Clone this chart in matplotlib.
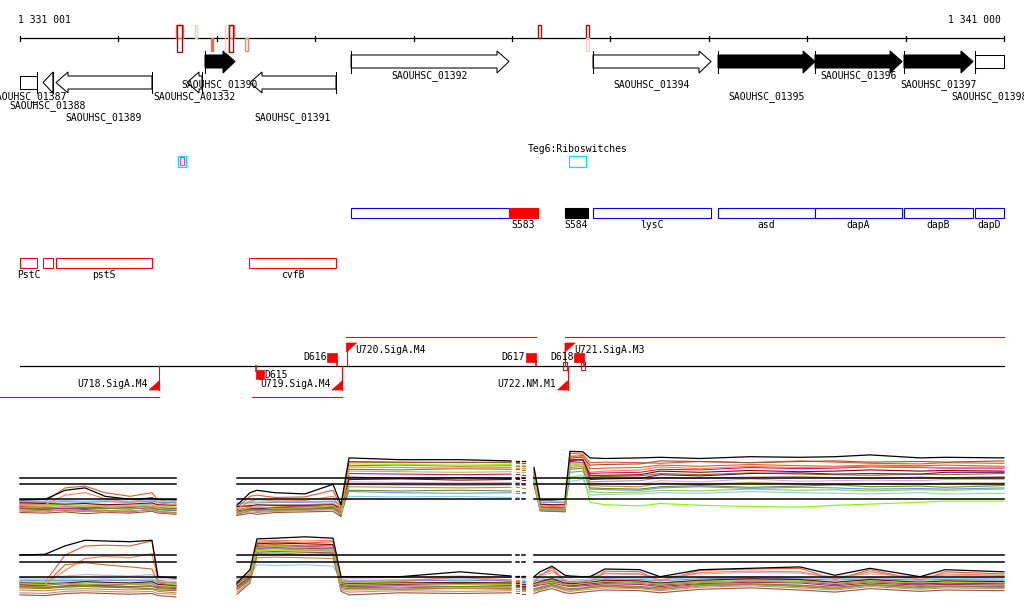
import numpy as np
import matplotlib
matplotlib.use("Agg")
import matplotlib.pyplot as plt
from matplotlib.patches import Rectangle, Polygon

plt.rcParams["font.family"] = ["DejaVu Sans Mono", "DejaVu Sans"]

REGION_START = 1331001
REGION_END = 1341000
BP_PER_PX = (REGION_END - REGION_START) / 984.0
X_LEFT = REGION_START - 20 * BP_PER_PX
X_RIGHT = REGION_END + 20 * BP_PER_PX
FS = 7

# ---------------- data ----------------
# coloured marks on the coordinate axis ('+' above, '-' below, 'b' both)
mark_start = [1332586, 1332600, 1332779, 1332942, 1333087, 1333125, 1333128, 1333291, 1336260, 1336753, 1336753]
mark_end = [1332654, 1332644, 1332803, 1332965, 1333112, 1333173, 1333169, 1333315, 1336293, 1336779, 1336779]
mark_strand = ["+", "b", "+", "-", "b", "+", "b", "-", "+", "+", "-"]
mark_color = ["#ff6347", "#a01010", "#f5d0c8", "#ff6347", "#f5d0c8", "#ff6347", "#a01010", "#fa8072", "#a01010", "#a01010", "#f5d0c8"]
mark_filled = [False, False, False, True, False, False, False, False, False, False, False]

# genes
gene_name = ["SAOUHSC_01387", "SAOUHSC_01388", "SAOUHSC_01389", "SAOUHSC_A01332", "SAOUHSC_01390", "SAOUHSC_01391",
             "SAOUHSC_01392", "SAOUHSC_01394", "SAOUHSC_01395", "SAOUHSC_01396", "SAOUHSC_01397", "SAOUHSC_01398"]
gene_start = [1330620, 1331235, 1331367, 1332698, 1332881, 1333338, 1334365, 1336824, 1338094, 1339080, 1339984, 1340706]
gene_end = [1331174, 1331336, 1332342, 1332850, 1333186, 1334212, 1335970, 1338023, 1339080, 1339964, 1340685, 1341420]
gene_strand = ["-", "-", "-", "-", "+", "-", "+", "+", "+", "+", "+", "+"]
gene_filled = [False, False, False, False, True, False, False, False, True, True, True, False]

# riboswitch track
ribo_start = [1332607, 1336580]
ribo_end = [1332688, 1336753]
ribo_name = ["", "Teg6:Riboswitches"]

# operon / sRNA track
feat_start = [1334365, 1335970, 1336539, 1336824, 1338094, 1339080, 1339984, 1340706]
feat_end = [1335970, 1336265, 1336773, 1338023, 1339080, 1339964, 1340685, 1341420]
feat_name = ["", "S583", "S584", "lysC", "asd", "dapA", "dapB", "dapD"]
feat_face = ["white", "red", "black", "white", "white", "white", "white", "white"]
feat_edge = ["blue", "red", "black", "blue", "blue", "blue", "blue", "blue"]

# other annotation track
oth_start = [1330700, 1331235, 1331367, 1333328]
oth_end = [1331174, 1331336, 1332342, 1334212]
oth_name = ["PstC", "", "pstS", "cvfB"]

# transcription units
tx_up_start = [1334314, 1336539]
tx_up_end = [1336245, 1341000]
tx_down_start = [1330700, 1333354]
tx_down_end = [1332414, 1334273]
prom_name = ["U718.SigA.M4", "U719.SigA.M4", "U720.SigA.M4", "U721.SigA.M3", "U722.NM.M1"]
prom_pos = [1332414, 1334273, 1334319, 1336539, 1336565]
prom_strand = ["-", "-", "+", "+", "-"]
term_name = ["D615", "D616", "D617", "D618"]
term_pos = [1333399, 1334222, 1336240, 1336732]
term_strand = ["-", "+", "+", "+"]
small_start = [1336519, 1336702]
small_end = [1336560, 1336742]

# expression profiles (probe positions, log2 signal)
expr_x = [1331001, 1331255, 1331458, 1331662, 1331865, 1332119, 1332342, 1332403, 1332586,
          1333206, 1333338, 1333409, 1333592, 1333897, 1334182, 1334263, 1334344, 1334863, 1335472, 1335991,
          1336041, 1336072,
          1336102, 1336133,
          1336224, 1336285, 1336407, 1336539, 1336590, 1336722, 1336793, 1336945, 1337301, 1337505,
          1337911, 1338419, 1338927, 1339283, 1339639, 1340147, 1340401, 1341000]
seg_len = [9, 11, 2, 2, 18]
ref_a = [10, 9, 6.5]
ref_b = [10, 9, 6.8]
expr_colors = ["#e8582c", "#d2691e", "#808000", "#7cfc00", "#87cefa", "#6495ed", "#800080",
               "#c71585", "#a0522d", "#dda0dd", "#8b0000", "#cd853f",
               "#ff7f50", "#6b8e23", "#bc8f8f", "#9acd32"]

a_black = [6.4, 6.5, 8.0, 8.4, 7.0, 6.5, 6.7, 6.5, 6.4,
           5.5, 7.6, 8.0, 7.6, 7.4, 9.0, 5.6, 13.4, 13.1, 13.1, 12.9,
           12.9, 12.9, 12.9, 12.9,
           11.8, 6.4, 6.4, 6.5, 14.5, 14.4, 13.4, 13.3, 13.4, 13.5, 13.3, 13.6, 13.5, 13.6, 13.9, 13.4, 13.5, 13.4]
a_orangered = [5.9, 6.1, 8.4, 8.7, 7.6, 7.0, 7.6, 6.4, 5.9,
               5.1, 7.0, 7.2, 6.8, 6.9, 8.0, 5.1, 12.7, 12.6, 12.7, 12.6,
               12.6, 12.6, 12.6, 12.6,
               11.5, 5.6, 5.5, 5.6, 14.2, 14.0, 12.6, 12.7, 12.6, 12.5, 12.8, 12.6, 12.9, 12.7, 12.5, 12.4, 12.6, 12.5]
a_chocolate = [5.5, 5.6, 5.4, 5.2, 5.5, 5.3, 5.6, 5.2, 5.0,
               4.5, 5.3, 5.0, 5.2, 5.4, 5.8, 4.3, 12.1, 12.2, 12.0, 12.1,
               12.1, 12.1, 12.0, 12.0,
               11.0, 5.0, 4.9, 4.8, 13.6, 13.8, 11.6, 11.7, 11.8, 12.2, 12.0, 12.3, 12.1, 12.0, 12.2, 12.1, 12.2, 12.0]
a_olive = [4.9, 4.8, 4.6, 4.5, 4.7, 4.4, 4.9, 4.5, 4.2,
           4.0, 4.6, 4.9, 4.7, 4.8, 5.0, 3.8, 11.5, 11.4, 11.6, 11.5,
           11.5, 11.5, 11.4, 11.4,
           10.5, 4.6, 4.5, 4.4, 13.0, 13.2, 10.2, 10.3, 10.4, 10.8, 10.6, 10.9, 10.7, 10.6, 10.5, 10.7, 10.6, 10.8]
a_lawngreen = [5.8, 5.7, 5.6, 5.5, 5.7, 5.4, 5.8, 5.4, 5.2,
               5.0, 5.5, 5.4, 5.6, 5.5, 5.7, 4.8, 12.4, 12.3, 12.2, 12.3,
               12.3, 12.3, 12.2, 12.2,
               10.8, 5.2, 5.1, 5.0, 10.2, 10.5, 6.0, 5.6, 5.4, 5.8, 5.5, 5.3, 5.2, 5.5, 5.7, 6.0, 6.2, 6.2]
a_skyblue = [6.3, 6.2, 6.3, 6.2, 6.3, 6.2, 6.4, 6.2, 6.1,
             6.0, 6.1, 6.2, 6.2, 6.1, 6.2, 5.9, 7.0, 6.9, 7.0, 6.8,
             6.8, 6.8, 6.7, 6.7,
             9.0, 6.2, 6.2, 6.1, 9.5, 9.8, 7.2, 7.3, 7.4, 7.6, 7.5, 7.8, 7.6, 7.5, 7.4, 7.6, 7.4, 7.5]
a_cornflower = [6.1, 6.0, 6.1, 6.0, 6.1, 6.0, 6.2, 6.0, 5.9,
                5.8, 5.9, 5.9, 6.0, 6.0, 6.1, 5.6, 7.8, 7.6, 7.5, 7.6,
                7.6, 7.6, 7.5, 7.5,
                9.5, 6.0, 6.0, 5.9, 11.0, 11.2, 8.2, 8.1, 8.0, 8.4, 8.6, 8.3, 8.5, 8.4, 8.2, 8.3, 8.2, 8.4]
a_purple = [5.3, 5.2, 5.1, 5.0, 5.2, 5.1, 5.3, 5.0, 4.9,
            4.8, 5.0, 4.9, 5.1, 5.2, 5.3, 4.6, 10.2, 10.0, 10.1, 10.0,
            10.0, 10.0, 10.0, 10.0,
            10.0, 5.3, 5.2, 5.2, 12.8, 12.6, 9.8, 9.9, 10.0, 10.6, 10.4, 10.8, 10.9, 10.7, 10.8, 10.7, 11.0, 11.0]
a_violetred = [5.0, 4.9, 5.0, 4.8, 5.0, 4.9, 5.1, 4.8, 4.7,
               4.6, 4.8, 4.7, 4.9, 5.0, 5.1, 4.4, 10.8, 10.7, 10.6, 10.7,
               10.7, 10.7, 10.6, 10.6,
               10.3, 5.1, 5.0, 5.0, 13.2, 13.0, 10.8, 10.9, 11.0, 11.5, 11.4, 11.8, 11.6, 11.7, 11.9, 11.8, 11.7, 11.7]
a_sienna = [4.3, 4.2, 4.4, 4.1, 4.3, 4.2, 4.5, 4.2, 4.0,
            3.8, 4.2, 4.0, 4.3, 4.4, 4.5, 3.6, 12.8, 12.7, 12.6, 12.7,
            12.7, 12.7, 12.6, 12.6,
            11.2, 4.6, 4.5, 4.5, 13.4, 13.5, 12.2, 12.3, 12.4, 12.9, 12.8, 12.6, 12.8, 12.9, 12.7, 12.8, 12.7, 12.9]
a_plum = [5.6, 5.5, 5.4, 5.3, 5.5, 5.4, 5.6, 5.3, 5.1,
          5.2, 5.6, 5.3, 5.5, 5.6, 5.9, 5.0, 9.4, 9.3, 9.2, 9.3,
          9.3, 9.3, 9.2, 9.2,
          9.8, 5.4, 5.3, 5.3, 12.0, 12.3, 9.2, 9.1, 9.0, 9.6, 9.4, 9.9, 9.5, 9.6, 9.7, 9.6, 9.8, 9.8]
a_darkred = [5.9, 5.8, 5.7, 5.8, 5.6, 5.7, 5.9, 5.6, 5.5,
             5.3, 5.4, 5.6, 5.5, 5.5, 5.6, 5.0, 9.8, 9.9, 9.7, 9.8,
             9.8, 9.8, 9.7, 9.7,
             10.1, 5.7, 5.6, 5.6, 13.0, 13.1, 10.5, 10.5, 10.6, 11.2, 11.0, 11.3, 11.1, 11.2, 11.4, 11.2, 11.3, 11.2]
a_peru = [4.7, 4.6, 4.7, 4.5, 4.6, 4.5, 4.8, 4.5, 4.3,
          4.4, 4.7, 4.5, 4.6, 4.7, 4.9, 4.2, 8.6, 8.5, 8.4, 8.5,
          8.5, 8.5, 8.4, 8.4,
          9.2, 4.8, 4.7, 4.7, 11.8, 12.0, 8.8, 8.7, 8.6, 9.2, 9.0, 9.3, 9.1, 9.0, 9.1, 9.0, 9.2, 9.2]
a_coral = [5.7, 5.6, 7.2, 7.6, 6.6, 6.0, 6.8, 5.9, 5.6,
           4.9, 6.2, 6.5, 6.2, 6.3, 7.0, 4.7, 11.9, 11.8, 11.7, 11.8,
           11.8, 11.8, 11.7, 11.7,
           10.6, 5.4, 5.3, 5.4, 13.8, 13.6, 11.0, 11.2, 11.4, 11.9, 11.6, 12.0, 11.8, 11.9, 12.0, 11.9, 11.8, 11.9]
a_olivedrab = [5.1, 5.0, 5.2, 5.1, 5.0, 4.9, 5.2, 4.8, 4.6,
               4.3, 4.9, 4.7, 4.8, 5.0, 5.2, 4.0, 8.0, 7.9, 8.0, 7.9,
               7.9, 7.9, 7.8, 7.8,
               8.8, 4.9, 4.8, 4.8, 11.5, 11.7, 8.4, 8.3, 8.2, 8.6, 8.8, 8.5, 8.7, 8.9, 8.6, 8.7, 8.5, 8.8]
a_rosybrown = [4.5, 4.4, 4.8, 4.6, 4.4, 4.6, 4.7, 4.4, 4.1,
               4.2, 4.4, 4.3, 4.5, 4.6, 4.8, 4.0, 9.0, 8.9, 8.8, 8.9,
               8.9, 8.9, 8.8, 8.8,
               9.4, 4.7, 4.6, 4.6, 12.5, 12.6, 9.4, 9.5, 9.6, 10.1, 10.0, 10.2, 10.3, 10.1, 10.0, 10.2, 10.1, 10.3]
a_yellowgreen = [5.2, 5.3, 5.1, 5.4, 5.2, 5.0, 5.3, 5.0, 4.8,
                 4.7, 5.1, 5.2, 5.0, 5.1, 5.4, 4.5, 11.2, 11.1, 11.0, 11.1,
                 11.1, 11.1, 11.0, 11.0,
                 10.0, 5.0, 4.9, 4.9, 12.2, 12.4, 7.8, 7.6, 7.7, 8.0, 7.9, 8.2, 8.0, 8.1, 7.9, 8.1, 8.0, 8.2]

b_black = [10.0, 10.1, 11.3, 12.1, 12.0, 11.9, 12.1, 6.9, 6.7,
           6.0, 7.9, 12.3, 12.4, 12.6, 12.4, 6.9, 6.9, 6.9, 7.6, 7.0,
           7.0, 7.0, 7.0, 7.0,
           6.9, 7.6, 8.4, 7.1, 7.0, 6.9, 6.9, 8.0, 7.9, 6.9, 7.9, 8.1, 8.3, 7.1, 8.1, 6.9, 7.9, 7.6]
b_orangered = [6.0, 6.1, 10.0, 11.3, 11.4, 11.3, 12.0, 6.4, 6.0,
               6.2, 7.5, 11.8, 11.9, 11.7, 11.9, 6.6, 6.3, 6.2, 6.8, 6.2,
               6.2, 6.2, 6.1, 6.1,
               6.0, 7.0, 8.2, 6.2, 6.0, 6.1, 6.2, 7.7, 7.6, 6.3, 7.8, 8.0, 8.1, 6.5, 7.9, 6.4, 7.6, 7.3]
b_chocolate = [5.6, 5.7, 8.6, 8.9, 8.6, 8.3, 8.0, 6.0, 5.7,
               5.8, 7.0, 11.4, 11.5, 11.3, 11.4, 6.0, 5.9, 5.8, 6.0, 5.9,
               5.9, 5.9, 5.8, 5.8,
               5.7, 6.0, 6.5, 5.8, 5.7, 5.8, 5.9, 6.2, 6.1, 5.8, 6.3, 6.6, 6.4, 5.9, 6.3, 5.8, 6.1, 6.0]
b_olive = [5.3, 5.2, 5.4, 5.5, 5.4, 5.3, 5.2, 5.0, 4.9,
           5.1, 6.5, 11.0, 11.1, 10.9, 11.0, 5.3, 5.2, 5.1, 5.3, 5.2,
           5.2, 5.2, 5.1, 5.1,
           5.0, 5.2, 5.6, 5.1, 5.0, 5.2, 5.4, 5.5, 5.3, 5.1, 5.6, 5.8, 5.5, 5.2, 5.7, 5.3, 5.5, 5.4]
b_lawngreen = [6.2, 6.1, 6.2, 6.0, 6.1, 6.0, 6.1, 5.8, 5.7,
               5.9, 7.2, 10.6, 10.7, 10.6, 10.5, 6.1, 6.0, 6.1, 6.0, 6.0,
               6.0, 6.0, 6.0, 6.0,
               6.0, 6.1, 6.3, 6.0, 5.9, 6.1, 6.2, 6.4, 6.2, 6.0, 6.3, 6.5, 6.4, 6.1, 6.4, 6.2, 6.3, 6.2]
b_skyblue = [6.6, 6.5, 6.6, 6.5, 6.6, 6.5, 6.6, 6.3, 6.2,
             6.3, 7.0, 8.6, 8.5, 8.6, 8.4, 6.5, 6.4, 6.5, 6.6, 6.5,
             6.5, 6.5, 6.4, 6.4,
             6.5, 6.6, 6.8, 6.5, 6.4, 6.5, 6.6, 6.8, 6.7, 6.5, 6.8, 6.9, 6.8, 6.6, 6.8, 6.6, 6.7, 6.6]
b_cornflower = [6.4, 6.3, 6.4, 6.3, 6.4, 6.3, 6.4, 6.1, 6.0,
                6.1, 7.1, 10.2, 10.3, 10.1, 10.2, 6.3, 6.2, 6.3, 6.4, 6.3,
                6.3, 6.3, 6.2, 6.2,
                6.3, 6.4, 6.6, 6.3, 6.2, 6.3, 6.4, 6.6, 6.5, 6.3, 6.6, 6.7, 6.6, 6.4, 6.6, 6.4, 6.5, 6.4]
b_purple = [5.8, 5.7, 5.9, 5.8, 5.7, 5.8, 5.9, 5.5, 5.4,
            5.6, 6.8, 10.9, 11.0, 10.8, 10.9, 5.8, 5.7, 5.8, 5.9, 5.7,
            5.7, 5.7, 5.6, 5.6,
            5.7, 5.9, 6.2, 5.8, 5.6, 5.8, 5.9, 6.1, 6.0, 5.7, 6.1, 6.3, 6.2, 5.8, 6.2, 5.9, 6.0, 5.9]
b_violetred = [5.5, 5.4, 5.6, 5.7, 5.6, 5.5, 5.6, 5.3, 5.2,
               5.4, 6.9, 11.2, 11.3, 11.2, 11.1, 5.6, 5.5, 5.6, 5.5, 5.6,
               5.6, 5.6, 5.5, 5.5,
               5.5, 5.7, 6.0, 5.6, 5.5, 5.6, 5.7, 5.9, 5.8, 5.5, 5.9, 6.1, 6.0, 5.6, 6.0, 5.7, 5.8, 5.7]
b_sienna = [4.3, 4.2, 4.5, 4.6, 4.5, 4.4, 4.5, 4.2, 4.0,
            4.4, 6.0, 10.4, 10.5, 10.4, 10.3, 4.8, 4.3, 4.6, 4.5, 4.6,
            4.6, 4.6, 4.5, 4.5,
            4.5, 4.8, 5.2, 4.6, 4.5, 4.7, 4.8, 5.0, 4.9, 4.6, 5.1, 5.3, 5.0, 4.7, 5.2, 4.8, 5.0, 4.9]
b_plum = [6.8, 6.7, 7.0, 7.2, 7.1, 7.0, 7.2, 6.6, 6.5,
          6.6, 7.4, 10.8, 10.9, 10.8, 10.7, 6.8, 6.7, 6.8, 7.0, 6.8,
          6.8, 6.8, 6.7, 6.7,
          6.7, 7.0, 7.5, 6.8, 6.7, 6.9, 7.0, 7.3, 7.2, 6.8, 7.3, 7.5, 7.4, 6.9, 7.3, 6.9, 7.1, 7.0]
b_darkred = [6.0, 5.9, 6.0, 6.2, 6.1, 6.0, 6.2, 5.8, 5.6,
             5.8, 7.0, 11.6, 11.7, 11.6, 11.5, 6.0, 5.9, 6.0, 6.1, 6.0,
             6.0, 6.0, 5.9, 5.9,
             5.9, 6.2, 6.6, 6.0, 5.9, 6.0, 6.1, 6.4, 6.3, 6.0, 6.4, 6.6, 6.5, 6.1, 6.5, 6.1, 6.3, 6.2]
b_peru = [5.0, 4.9, 5.1, 5.2, 5.1, 5.0, 5.1, 4.8, 4.6,
          5.0, 6.3, 9.6, 9.7, 9.6, 9.5, 5.2, 5.0, 5.1, 5.2, 5.1,
          5.1, 5.1, 5.0, 5.0,
          5.0, 5.3, 5.7, 5.1, 5.0, 5.2, 5.3, 5.6, 5.4, 5.1, 5.6, 5.8, 5.6, 5.2, 5.7, 5.3, 5.5, 5.4]
b_coral = [5.9, 5.8, 7.8, 9.5, 9.8, 9.6, 10.2, 6.2, 5.9,
           6.0, 7.3, 12.0, 12.1, 12.0, 12.1, 6.4, 6.1, 6.3, 6.9, 6.4,
           6.4, 6.4, 6.3, 6.3,
           6.2, 7.2, 7.8, 6.3, 6.1, 6.2, 6.3, 7.4, 7.3, 6.4, 7.5, 7.7, 7.6, 6.6, 7.6, 6.5, 7.3, 7.1]
b_olivedrab = [5.5, 5.4, 5.5, 5.6, 5.5, 5.4, 5.5, 5.2, 5.1,
               5.3, 6.6, 10.0, 10.1, 10.0, 9.9, 5.5, 5.4, 5.3, 5.5, 5.4,
               5.4, 5.4, 5.3, 5.3,
               5.2, 5.4, 5.8, 5.3, 5.2, 5.3, 5.5, 5.7, 5.5, 5.3, 5.8, 5.9, 5.7, 5.4, 5.8, 5.5, 5.6, 5.5]
b_rosybrown = [4.6, 4.5, 4.8, 4.9, 4.8, 4.7, 4.8, 4.5, 4.4,
               4.7, 6.1, 10.8, 10.9, 10.7, 10.6, 5.0, 4.7, 4.9, 4.8, 4.9,
               4.9, 4.9, 4.8, 4.8,
               4.8, 5.0, 5.5, 4.9, 4.8, 5.0, 5.1, 5.3, 5.2, 4.9, 5.4, 5.6, 5.3, 5.0, 5.5, 5.1, 5.3, 5.2]
b_yellowgreen = [5.9, 5.8, 5.9, 5.8, 5.9, 5.8, 5.9, 5.6, 5.5,
                 5.7, 7.0, 11.1, 11.2, 11.1, 11.0, 5.9, 5.8, 5.9, 5.8, 5.8,
                 5.8, 5.8, 5.7, 5.7,
                 5.8, 5.9, 6.1, 5.8, 5.7, 5.9, 6.0, 6.2, 6.0, 5.8, 6.1, 6.3, 6.2, 5.9, 6.2, 6.0, 6.1, 6.0]

panel_a = [a_orangered, a_chocolate, a_olive, a_lawngreen, a_skyblue, a_cornflower, a_purple,
           a_violetred, a_sienna, a_plum, a_darkred, a_peru,
           a_coral, a_olivedrab, a_rosybrown, a_yellowgreen]
panel_b = [b_orangered, b_chocolate, b_olive, b_lawngreen, b_skyblue, b_cornflower, b_purple,
           b_violetred, b_sienna, b_plum, b_darkred, b_peru,
           b_coral, b_olivedrab, b_rosybrown, b_yellowgreen]

# ---------------- drawing ----------------
W = BP_PER_PX  # bp per pixel, used for glyph sizes
LW = 0.75


def txt(ax, x, y, s, ha="center"):
    ax.text(x, y, s, fontsize=FS, ha=ha, va="center", color="black", zorder=8)


def draw_gene(ax, s, e, strand, filled, name, row):
    vs, ve = max(s, REGION_START), min(e, REGION_END)
    fc = "black" if filled else "white"
    head = 12 * W
    if strand == "+":
        y0, y1, ym = 55, 68, 61.5
        ht, hb = 51, 73
        if e <= REGION_END:
            h = min(head, e - vs)
            pts = [(vs, y0), (e - h, y0), (e - h, ht), (e, ym), (e - h, hb), (e - h, y1), (vs, y1)]
        else:
            pts = [(vs, y0), (ve, y0), (ve, y1), (vs, y1)]
        ax.add_patch(Polygon(pts, closed=True, fc=fc, ec="black", lw=LW, zorder=3))
        if s >= REGION_START:
            ax.plot([s, s], [ht, hb], color="black", lw=LW, zorder=4)
        ly = [76, 85, 97][row]
    else:
        y0, y1, ym = 76, 89, 82.5
        ht, hb = 72, 93
        if s >= REGION_START:
            h = min(head, ve - s)
            pts = [(ve, y0), (s + h, y0), (s + h, ht), (s, ym), (s + h, hb), (s + h, y1), (ve, y1)]
        else:
            pts = [(vs, y0), (ve, y0), (ve, y1), (vs, y1)]
        ax.add_patch(Polygon(pts, closed=True, fc=fc, ec="black", lw=LW, zorder=3))
        if e <= REGION_END:
            ax.plot([e, e], [ht, hb], color="black", lw=LW, zorder=4)
        ly = [97, 106, 118][row]
    txt(ax, (vs + ve) / 2, ly, name)


fig = plt.figure(figsize=(10.24, 6.11), dpi=100)
ax = fig.add_axes([0, 0, 1, 1])
ax.set_xlim(X_LEFT, X_RIGHT)
ax.set_ylim(611, 0)
ax.axis("off")

# coordinate axis
ax.plot([REGION_START, REGION_END], [38.3, 38.3], color="black", lw=0.9)
for t in range(REGION_START, REGION_END + 2, 1000):
    ax.plot([t, t], [35.5, 41], color="black", lw=0.9)
txt(ax, REGION_START - 2 * W, 20, "1 331 001", ha="left")
txt(ax, REGION_END - 3 * W, 20, "1 341 000", ha="right")

ybox = {"+": (25, 38.3), "-": (38.3, 51), "b": (25, 52)}
for s, e, st, c, f in zip(mark_start, mark_end, mark_strand, mark_color, mark_filled):
    y0, y1 = ybox[st]
    ax.add_patch(Rectangle((s, y0), e - s, y1 - y0, fill=f, fc=c, ec=c, lw=1.0, zorder=5))

# genes
for i, (s, e, st, f, n) in enumerate(zip(gene_start, gene_end, gene_strand, gene_filled, gene_name)):
    draw_gene(ax, s, e, st, f, n, i % 3)

# riboswitches
for s, e, n in zip(ribo_start, ribo_end, ribo_name):
    ax.add_patch(Rectangle((s, 155.5), e - s, 11, fill=False, ec="#00e5ee", lw=0.9))
    if n:
        txt(ax, (s + e) / 2, 149, n)
ax.add_patch(Rectangle((ribo_start[0] + 2 * W, 157), (ribo_end[0] - ribo_start[0]) - 4 * W, 8,
                       fill=False, ec="magenta", lw=0.6))

# operon / sRNA track
for s, e, n, fc, ec in zip(feat_start, feat_end, feat_name, feat_face, feat_edge):
    vs, ve = max(s, REGION_START), min(e, REGION_END)
    ax.add_patch(Rectangle((vs, 208), ve - vs, 9.5, fc=fc, ec=ec, lw=0.8, zorder=3))
    if n:
        txt(ax, (vs + ve) / 2, 224.5, n)

# other annotation track
for s, e, n in zip(oth_start, oth_end, oth_name):
    vs, ve = max(s, REGION_START), min(e, REGION_END)
    ax.add_patch(Rectangle((vs, 258), ve - vs, 10, fill=False, ec="red", lw=0.8))
    if n:
        txt(ax, (vs + ve) / 2, 275, n)

# transcription units
ax.plot([REGION_START, REGION_END], [366, 366], color="black", lw=0.9)
for s, e in zip(tx_up_start, tx_up_end):
    ax.plot([s, e], [336.5, 336.5], color="red", lw=0.8)
for s, e in zip(tx_down_start, tx_down_end):
    ax.plot([s, e], [397, 397], color="red", lw=0.8)
for n, p, st in zip(prom_name, prom_pos, prom_strand):
    if st == "+":
        ax.plot([p, p], [366, 343], color="red", lw=0.8)
        ax.add_patch(Polygon([(p, 343), (p + 10 * W, 343), (p, 352)], closed=True, fc="red", ec="red", lw=0.5))
        txt(ax, p + 9 * W, 350, n, ha="left")
    else:
        ax.plot([p, p], [366, 390], color="red", lw=0.8)
        ax.add_patch(Polygon([(p, 390), (p - 10 * W, 390), (p, 381)], closed=True, fc="red", ec="red", lw=0.5))
        txt(ax, p - 11.5 * W, 384, n, ha="right")
for n, p, st in zip(term_name, term_pos, term_strand):
    if st == "+":
        ax.plot([p, p], [366, 361], color="red", lw=1.2)
        ax.add_patch(Rectangle((p - 10 * W, 353), 10 * W, 9, fc="red", ec="red", lw=0.5, zorder=4))
        txt(ax, p - 10.5 * W, 357, n, ha="right")
    else:
        ax.plot([p, p], [366, 371], color="red", lw=1.2)
        ax.add_patch(Rectangle((p, 370), 8 * W, 9, fc="red", ec="red", lw=0.5, zorder=4))
        txt(ax, p + 8 * W, 374.5, n, ha="left")
for s, e in zip(small_start, small_end):
    ax.add_patch(Rectangle((s, 362), e - s, 8, fill=False, ec="red", lw=0.8, zorder=5))


# expression panels
def draw_panel(rect, ylim, series, black, refs):
    pax = fig.add_axes(rect)
    pax.set_xlim(X_LEFT, X_RIGHT)
    pax.set_ylim(*ylim)
    pax.axis("off")
    x = np.array(expr_x, dtype=float)
    bounds = np.cumsum([0] + seg_len)
    for a, b in zip(bounds[:-1], bounds[1:]):
        xs = x[a:b]
        for vals, c in zip(series, expr_colors):
            pax.plot(xs, np.array(vals, dtype=float)[a:b], color=c, lw=0.8, zorder=2)
        for r in refs:
            pax.plot([xs[0], xs[-1]], [r, r], color="black", lw=1.1, zorder=3)
        pax.plot(xs, np.array(black, dtype=float)[a:b], color="black", lw=0.9, zorder=4)


draw_panel([0, 1 - 526.3 / 611, 1, 84 / 611], (2, 16), panel_a, a_black, ref_a)
draw_panel([0, 1 - 604 / 611, 1, 77 / 611], (3, 14), panel_b, b_black, ref_b)

fig.savefig("out.png", dpi=100)
